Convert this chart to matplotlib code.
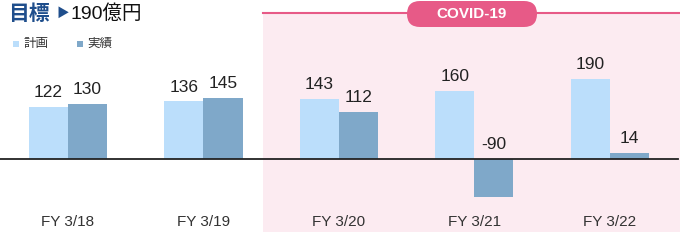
import numpy as np
import matplotlib
matplotlib.use("Agg")
from matplotlib import pyplot as plt
from matplotlib.patches import FancyBboxPatch, Rectangle

plt.rcParams['font.family'] = ['Liberation Sans', 'Noto Sans CJK JP', 'DejaVu Sans']

# data
years = ["FY 3/18", "FY 3/19", "FY 3/20", "FY 3/21", "FY 3/22"]
plan = [122, 136, 143, 160, 190]
actual = [130, 145, 112, -90, 14]
series_names = ["計画", "実績"]

PLAN_COLOR = "#BBDEFB"
ACTUAL_COLOR = "#7FA8C9"
PINK_BG = "#FCEBF1"
PINK = "#E75A87"
TITLE_BLUE = "#1F4E8C"

fig = plt.figure(figsize=(6.8, 2.4), dpi=100)
ax = fig.add_axes([0, 0, 1, 1])
ax.set_xlim(-0.502, 4.517)
ax.set_ylim(-191.5, 375.9)
ax.axis("off")

# covid shaded area
ax.add_patch(Rectangle((263 / 680, 8 / 240), 1 - 263 / 680, (240 - 13 - 8) / 240,
                       transform=ax.transAxes, facecolor=PINK_BG, edgecolor="none", zorder=0))
ax.plot([263 / 680, 1], [1 - 13 / 240, 1 - 13 / 240], transform=ax.transAxes,
        color=PINK, lw=1.5, zorder=1)

x = np.arange(len(years))
w = 0.288
ax.bar(x - w / 2, plan, width=w, color=PLAN_COLOR, zorder=2)
ax.bar(x + w / 2, actual, width=w, color=ACTUAL_COLOR, zorder=2)
ax.axhline(0, xmin=0, xmax=678 / 680, color="#222222", lw=1.3, zorder=3)

for i in range(len(years)):
    for xx, v in ((x[i] - w / 2, plan[i]), (x[i] + w / 2, actual[i])):
        ax.annotate(str(v), (xx, max(v, 0)), xytext=(0, 5), textcoords="offset points",
                    ha="center", va="bottom", fontsize=12.5, color="#222222", zorder=4)
    ax.text(x[i], -148, years[i], ha="center", va="center", fontsize=11, color="#333333")

# badge
badge = FancyBboxPatch((4.07, 2.13), 1.30, 0.26, boxstyle="round,pad=0,rounding_size=0.13",
                       transform=fig.dpi_scale_trans, facecolor=PINK, edgecolor="none", zorder=5)
fig.patches.append(badge)
fig.text(4.72 / 6.8, 1 - 14 / 240, "COVID-19", ha="center", va="center", color="white",
         fontsize=11, fontweight="bold", zorder=6)

# title
fig.text(8 / 680, 1 - 14 / 240, "目標", ha="left", va="center", color=TITLE_BLUE,
         fontsize=15, fontweight="bold")
fig.text(56 / 680, 1 - 14 / 240, "▶", ha="left", va="center", color=TITLE_BLUE, fontsize=9)
fig.text(71 / 680, 1 - 14 / 240, "190億円", ha="left", va="center", color="#111111", fontsize=14)

# legend
for lx, name, col in ((13, series_names[0], PLAN_COLOR), (77, series_names[1], ACTUAL_COLOR)):
    fig.patches.append(Rectangle((lx / 680, 1 - 47 / 240), 6 / 680, 6 / 240,
                                 transform=fig.transFigure, facecolor=col, edgecolor="none"))
    fig.text((lx + 10) / 680, 1 - 44 / 240, name, ha="left", va="center", fontsize=9,
             color="#333333")

fig.savefig("out.png", dpi=100, facecolor="white")
